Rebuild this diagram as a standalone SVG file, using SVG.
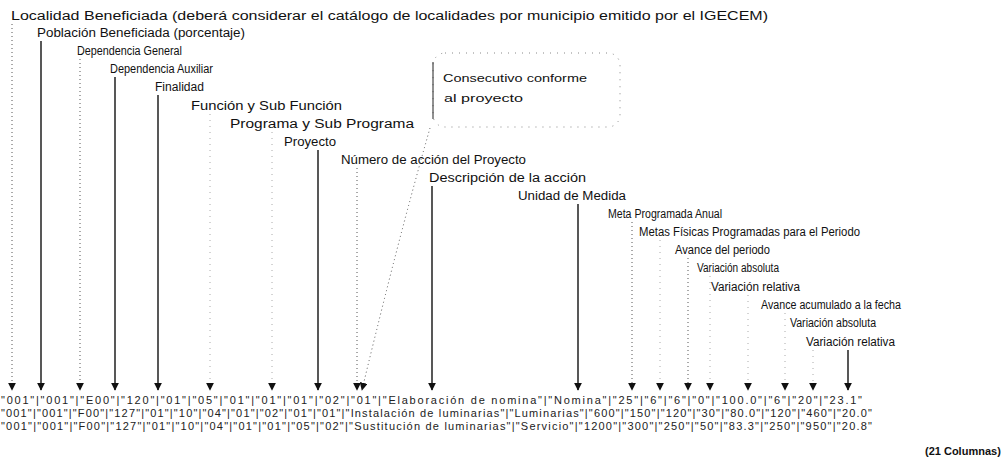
<svg xmlns="http://www.w3.org/2000/svg" width="1007" height="476" viewBox="0 0 1007 476">
<style>
text{font-family:"Liberation Sans",Arial,sans-serif;fill:#111}
.lbl{font-size:12px}
.row{font-size:11px;fill:#222}
.co{font-size:10.5px}
.b{font-size:11px;font-weight:bold}
.solid{stroke:#111;stroke-width:1.4;fill:none}
.dot{stroke:#555;stroke-width:1;stroke-dasharray:1 3;fill:none}
.faint{stroke:#aaa;stroke-width:1;stroke-dasharray:1 5;fill:none}
.box{stroke:#888;stroke-width:1;stroke-dasharray:1 6;fill:none}
</style>
<defs>
<marker id="ah" viewBox="0 0 10 10" refX="9" refY="5" markerWidth="8" markerHeight="8" markerUnits="userSpaceOnUse" orient="auto"><path d="M0,0 L10,5 L0,10 z" fill="#111"/></marker>
</defs>
<rect width="1007" height="476" fill="#fff"/>
<g id="labels">
<g id="n1"><text class="lbl" x="11" y="20" textLength="757" lengthAdjust="spacingAndGlyphs">Localidad Beneficiada (deberá considerar el catálogo de localidades por municipio emitido por el IGECEM)</text></g>
<g id="n2"><text class="lbl" x="37" y="37" textLength="208" lengthAdjust="spacingAndGlyphs">Población Beneficiada (porcentaje)</text></g>
<g id="n3"><text class="lbl" x="77" y="55" textLength="105" lengthAdjust="spacingAndGlyphs">Dependencia General</text></g>
<g id="n4"><text class="lbl" x="110" y="73" textLength="103" lengthAdjust="spacingAndGlyphs">Dependencia Auxiliar</text></g>
<g id="n5"><text class="lbl" x="155" y="91" textLength="49" lengthAdjust="spacingAndGlyphs">Finalidad</text></g>
<g id="n6"><text class="lbl" x="191" y="110" textLength="151" lengthAdjust="spacingAndGlyphs">Función y Sub Función</text></g>
<g id="n7"><text class="lbl" x="230" y="128" textLength="184" lengthAdjust="spacingAndGlyphs">Programa y Sub Programa</text></g>
<g id="n8"><text class="lbl" x="284" y="146" textLength="52" lengthAdjust="spacingAndGlyphs">Proyecto</text></g>
<g id="n9"><text class="lbl" x="341" y="164" textLength="185" lengthAdjust="spacingAndGlyphs">Número de acción del Proyecto</text></g>
<g id="n10"><text class="lbl" x="429" y="182" textLength="157" lengthAdjust="spacingAndGlyphs">Descripción de la acción</text></g>
<g id="n11"><text class="lbl" x="518" y="200" textLength="108" lengthAdjust="spacingAndGlyphs">Unidad de Medida</text></g>
<g id="n12"><text class="lbl" x="608" y="218" textLength="114" lengthAdjust="spacingAndGlyphs">Meta Programada Anual</text></g>
<g id="n13"><text class="lbl" x="639" y="236" textLength="221" lengthAdjust="spacingAndGlyphs">Metas Físicas Programadas para el Periodo</text></g>
<g id="n14"><text class="lbl" x="675" y="254" textLength="95" lengthAdjust="spacingAndGlyphs">Avance del periodo</text></g>
<g id="n15"><text class="lbl" x="697" y="272" textLength="82" lengthAdjust="spacingAndGlyphs">Variación absoluta</text></g>
<g id="n16"><text class="lbl" x="711" y="291" textLength="89" lengthAdjust="spacingAndGlyphs">Variación relativa</text></g>
<g id="n17"><text class="lbl" x="761" y="309" textLength="140" lengthAdjust="spacingAndGlyphs">Avance acumulado a la fecha</text></g>
<g id="n18"><text class="lbl" x="790" y="327" textLength="86" lengthAdjust="spacingAndGlyphs">Variación absoluta</text></g>
<g id="n19"><text class="lbl" x="806" y="346" textLength="89" lengthAdjust="spacingAndGlyphs">Variación relativa</text></g>
</g>
<g id="callout">
<rect class="box" x="433" y="53" width="187" height="74" rx="12"/>
<line x1="433" y1="62" x2="433" y2="119" stroke="#222" stroke-width="1"/>
<text class="co" x="443" y="82" textLength="144" lengthAdjust="spacingAndGlyphs">Consecutivo conforme</text>
<text class="co" x="444" y="102" textLength="79" lengthAdjust="spacingAndGlyphs">al proyecto</text>
</g>
<g id="connectors" marker-end="url(#ah)">
<line class="dot" x1="12" y1="24" x2="12" y2="390"/>
<line class="solid" x1="41" y1="41" x2="41" y2="390"/>
<line class="dot" x1="80" y1="59" x2="80" y2="390"/>
<line class="solid" x1="115" y1="77" x2="115" y2="390"/>
<line class="solid" x1="158" y1="95" x2="158" y2="390"/>
<line class="faint" x1="210" y1="114" x2="210" y2="390"/>
<line class="faint" x1="272" y1="132" x2="272" y2="390"/>
<line class="solid" x1="318" y1="150" x2="318" y2="390"/>
<line class="dot" x1="357" y1="168" x2="357" y2="390"/>
<path class="dot" d="M430,128 Q398,240 362,390"/>
<line class="solid" x1="432" y1="186" x2="432" y2="390"/>
<line class="solid" x1="578" y1="204" x2="578" y2="390"/>
<line class="dot" x1="632" y1="222" x2="632" y2="390"/>
<line class="faint" x1="660" y1="240" x2="660" y2="390"/>
<line class="dot" x1="688" y1="258" x2="688" y2="390"/>
<line class="faint" x1="710" y1="276" x2="710" y2="390"/>
<line class="faint" x1="748" y1="295" x2="748" y2="390"/>
<line class="faint" x1="785" y1="313" x2="785" y2="390"/>
<line class="faint" x1="813" y1="350" x2="813" y2="390"/>
<line class="solid" x1="848" y1="350" x2="848" y2="390"/>
</g>
<g id="data">
<text class="row" x="1" y="404" textLength="861" lengthAdjust="spacing">"001"|"001"|"E00"|"120"|"01"|"05"|"01"|"01"|"01"|"02"|"01"|"Elaboración de nomina"|"Nomina"|"25"|"6"|"6"|"0"|"100.0"|"6"|"20"|"23.1"</text>
<text class="row" x="1" y="417" textLength="871" lengthAdjust="spacing">"001"|"001"|"F00"|"127"|"01"|"10"|"04"|"01"|"02"|"01"|"01"|"Instalación de luminarias"|"Luminarias"|"600"|"150"|"120"|"30"|"80.0"|"120"|"460"|"20.0"</text>
<text class="row" x="1" y="430" textLength="871" lengthAdjust="spacing">"001"|"001"|"F00"|"127"|"01"|"10"|"04"|"01"|"01"|"05"|"02"|"Sustitución de luminarias"|"Servicio"|"1200"|"300"|"250"|"50"|"83.3"|"250"|"950"|"20.8"</text>
<text class="b" x="925" y="455">(21 Columnas)</text>
</g>
</svg>
